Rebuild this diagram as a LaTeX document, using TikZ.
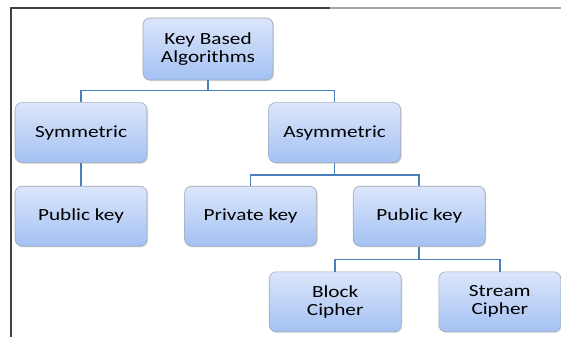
\documentclass[tikz,border=0pt]{standalone}
\usepackage{fontspec}
\setmainfont{Carlito}[FakeStretch=1.25]
\usetikzlibrary{positioning}
\usetikzlibrary{shadows}
\definecolor{boxtop}{HTML}{DCE6FA}
\definecolor{boxbottom}{HTML}{A3C1F3}
\definecolor{boxline}{HTML}{9FA8B8}
\definecolor{linkblue}{HTML}{4A7EBB}
\tikzset{%
  algo/.style = {rectangle,rounded corners=7pt,draw=boxline,line width=0.6pt,
        top color=boxtop,bottom color=boxbottom,
        drop shadow={shadow xshift=1.2pt,shadow yshift=-1.2pt,opacity=0.25},
        minimum width=132pt,minimum height=60pt,align=center,
        font=\fontsize{17}{18}\selectfont},
  link/.style = {draw=linkblue,line width=1.6pt}
}
\begin{document}
\begin{tikzpicture}[x=1pt,y=-1pt,node distance=23pt and 36pt]
   \useasboundingbox (0,0) rectangle (561,337);
   \draw[line width=1.4pt,black!75] (11,337) -- (11,8) -- (330,8);
   \draw[line width=1.2pt,black!35] (330,8) -- (561,8);

   \node[algo,minimum width=130pt,minimum height=62pt] (root) at (208,49) {Key Based\\Algorithms};
   \node[algo] (sym) [below=22pt of root,xshift=-127pt] {Symmetric};
   \node[algo] (asym) [right=121pt of sym] {Asymmetric};
   \node[algo] (sym-pub) [below=of sym] {Public key};
   \node[algo] (asym-priv) [below=of asym,xshift=-84pt] {Private key};
   \node[algo] (asym-pub) [right=of asym-priv] {Public key};
   \node[algo] (block) [below=25pt of asym-pub,xshift=-84pt] {Block\\Cipher};
   \node[algo,minimum width=122pt] (stream) [right=37pt of block] {Stream\\Cipher};

   \draw[link] (root.south) -- ++(0,10) coordinate (root-fork);
   \draw[link] (root-fork) -| (sym.north);
   \draw[link] (root-fork) -| (asym.north);

   \draw[link] (sym.south) -- (sym-pub.north);

   \draw[link] (asym.south) -- ++(0,12) coordinate (asym-fork);
   \draw[link] (asym-fork) -| (asym-priv.north);
   \draw[link] (asym-fork) -| (asym-pub.north);

   \draw[link] (asym-pub.south) -- ++(0,13) coordinate (pub-fork);
   \draw[link] (pub-fork) -| (block.north);
   \draw[link] (pub-fork) -| (stream.north);
\end{tikzpicture}
\end{document}
